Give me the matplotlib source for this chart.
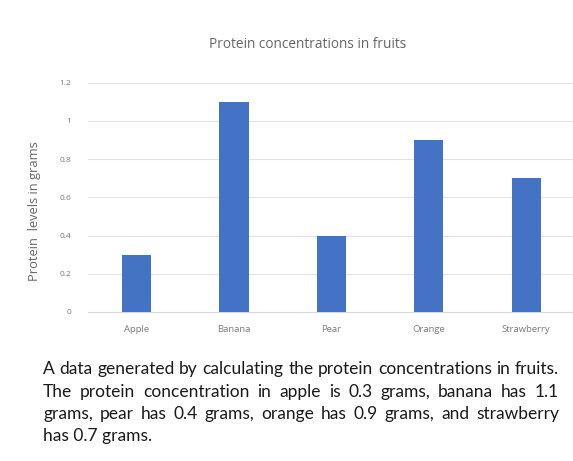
import matplotlib

matplotlib.use("Agg")
import matplotlib.pyplot as plt

fruits = ["Apple", "Banana", "Pear", "Orange", "Strawberry"]
protein = [0.3, 1.1, 0.4, 0.9, 0.7]
yticks = [0, 0.2, 0.4, 0.6, 0.8, 1.0, 1.2]
ytick_labels = ["0", "0.2", "0.4", "0.6", "0.8", "1", "1.2"]

title = "Protein concentrations in fruits"
ylabel = "Protein  levels in grams"
caption_lines = [
    "A data generated by calculating the protein concentrations in fruits.",
    "The protein concentration in apple is 0.3 grams, banana has 1.1",
    "grams, pear has 0.4 grams, orange has 0.9 grams, and strawberry",
    "has 0.7 grams.",
]

W, H = 573, 461
fig = plt.figure(figsize=(W / 100, H / 100), dpi=100)
fig.patch.set_facecolor("white")

# plot area in pixel coords of the reference (right side runs off the image)
left, right, top, bottom = 87.7, 575.0, 82.7, 312.0
ax = fig.add_axes([left / W, 1 - bottom / H, (right - left) / W, (bottom - top) / H])

x = range(len(fruits))
ax.bar(x, protein, width=0.30, color="#4472C4", zorder=3)
ax.set_xlim(-0.5, len(fruits) - 0.5)
ax.set_ylim(0, 1.2)
ax.set_yticks(yticks)
ax.set_yticklabels(ytick_labels)
ax.set_xticks(list(x))
ax.set_xticklabels(fruits)
ax.tick_params(axis="both", length=0, labelcolor="#7a7a7a")
ax.tick_params(axis="y", pad=12, labelsize=6)
ax.tick_params(axis="x", pad=9, labelsize=6.8)
for lab in ax.get_xticklabels() + ax.get_yticklabels():
    lab.set_family("Open Sans")

ax.grid(axis="y", color="#E3E3E3", linewidth=0.8, zorder=0)
for side in ["top", "right", "left"]:
    ax.spines[side].set_visible(False)
ax.spines["bottom"].set_color("#D9D9D9")
ax.spines["bottom"].set_linewidth(0.8)

fig.text(35 / W, 1 - 211 / H, ylabel, rotation=90, ha="center", va="center",
         fontsize=9.3, color="#666666", family="Open Sans")
fig.text(308 / W, 1 - 45 / H, title, ha="center", va="center",
         fontsize=9.8, color="#666666", family="Open Sans")

# caption, justified like the source document
cap_left, cap_right = 43.0, 559.0
cap_y = [369, 392, 414, 436]
cap_font = "Lato"
renderer = fig.canvas.get_renderer()

probe = fig.text(0, 0, caption_lines[0], fontsize=10, family=cap_font)
w0 = probe.get_window_extent(renderer).width
probe.remove()
cap_size = 10 * (cap_right - cap_left) / w0

for i, (line, yy) in enumerate(zip(caption_lines, cap_y)):
    words = line.split(" ")
    if i == len(caption_lines) - 1 or len(words) == 1:
        fig.text(cap_left / W, 1 - yy / H, line, fontsize=cap_size, family=cap_font,
                 color="#1a1a1a", va="center", ha="left")
        continue
    widths = []
    for wd in words:
        t = fig.text(0, 0, wd, fontsize=cap_size, family=cap_font)
        widths.append(t.get_window_extent(renderer).width)
        t.remove()
    gap = ((cap_right - cap_left) - sum(widths)) / (len(words) - 1)
    xpos = cap_left
    for wd, ww in zip(words, widths):
        fig.text(xpos / W, 1 - yy / H, wd, fontsize=cap_size, family=cap_font,
                 color="#1a1a1a", va="center", ha="left")
        xpos += ww + gap

fig.savefig("out.png", dpi=100)
